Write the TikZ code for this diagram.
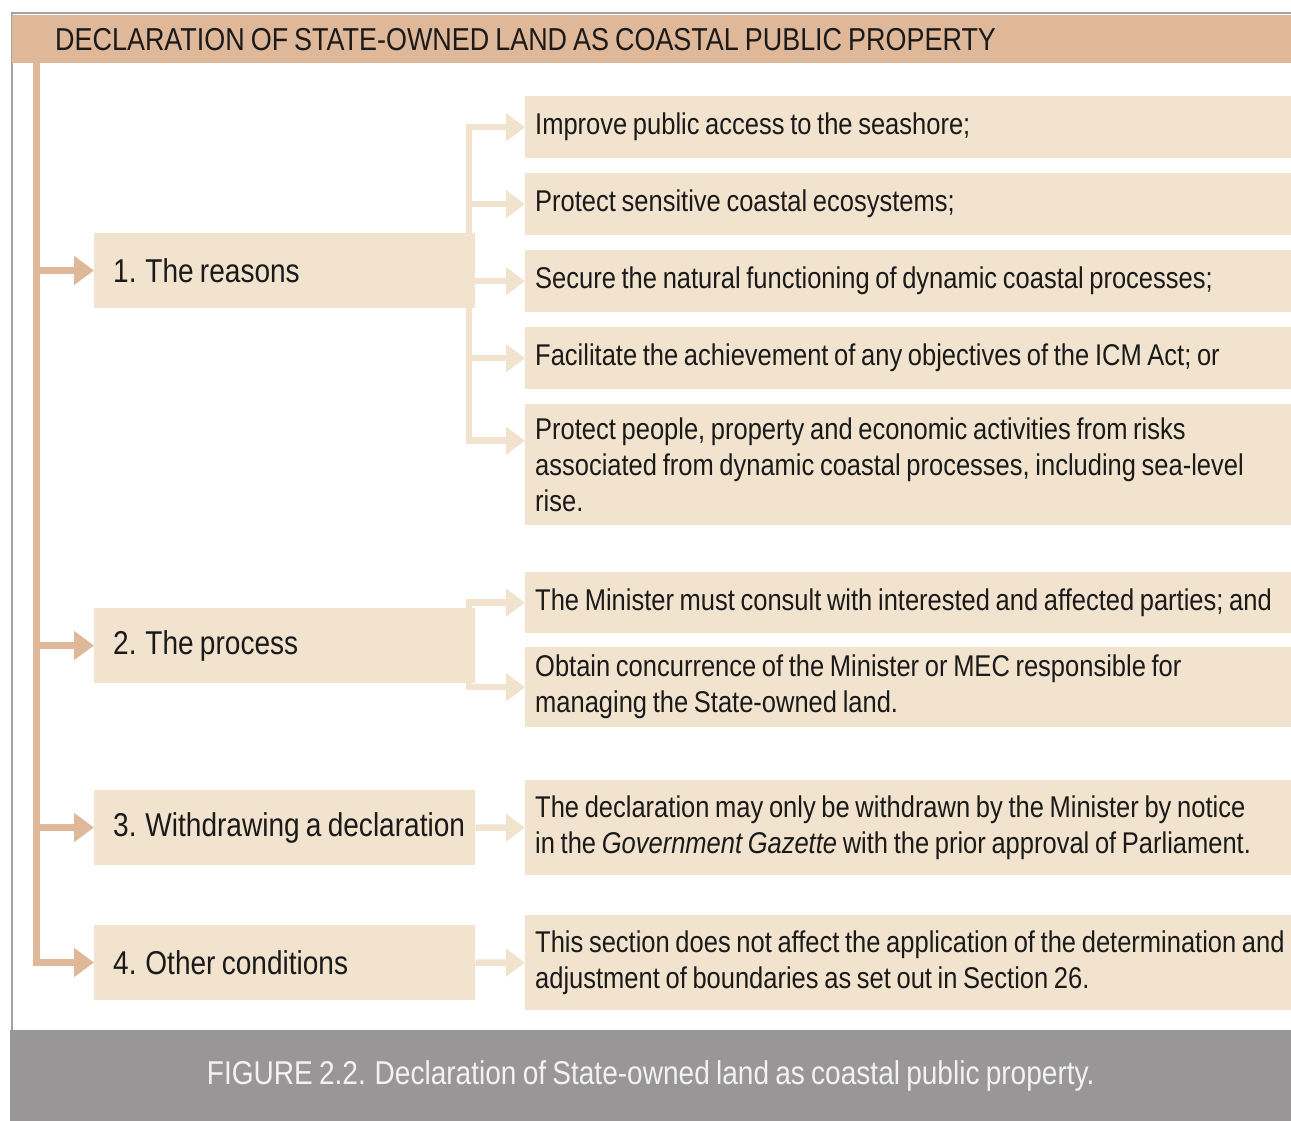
\documentclass[tikz,border=0pt]{standalone}
\usepackage{fontspec}
\setmainfont[FakeStretch=0.85,WordSpace=0.8]{Liberation Sans}
\usetikzlibrary{arrows.meta}
\definecolor{hdr}{RGB}{223,183,153}
\definecolor{pale}{RGB}{241,227,205}
\definecolor{capgray}{RGB}{152,150,151}
\definecolor{framegray}{RGB}{163,163,163}
\definecolor{ink}{RGB}{26,26,26}
\definecolor{capink}{RGB}{242,242,242}
\newcommand{\toptext}[1]{\makebox[343pt][l]{#1}}
\tikzset{
  topic/.style={fill=pale,anchor=west,inner xsep=19pt,inner ysep=0pt,minimum height=75pt,text=ink,font=\fontsize{33}{40}\selectfont},
  item/.style={fill=pale,anchor=north west,inner xsep=10pt,inner ysep=0pt,text width=790pt,align=left,text=ink,font=\fontsize{30}{36}\selectfont,
    execute at begin node={\spaceskip=0pt\xspaceskip=0pt}},
  mainarrow/.style={draw=hdr,line width=7pt,-{Triangle[length=20pt,width=28pt]}},
  subarrow/.style={draw=pale,line width=6.5pt,-{Triangle[length=19pt,width=27pt]}}
}
\begin{document}
\begin{tikzpicture}[x=1pt,y=-1pt]
\useasboundingbox (0,0) rectangle (1291,1121);
\draw[framegray,line width=2pt] (11.5,1030) -- (11.5,13.5) -- (1291,13.5);
\node[anchor=north west,fill=hdr,text width=1193pt,inner xsep=43pt,inner ysep=0pt,minimum height=48pt,align=left,text=ink,font=\fontsize{31.7}{36}\selectfont,execute at begin node={\spaceskip=0pt\xspaceskip=0pt}] (title) at (12,15) {DECLARATION OF STATE-OWNED LAND AS COASTAL PUBLIC PROPERTY};
\node[anchor=north west,fill=capgray,minimum width=1281pt,minimum height=91pt,inner sep=0pt,text=capink,font=\fontsize{33}{40}\selectfont] (caption) at (10,1030) {FIGURE 2.2. Declaration of State-owned land as coastal public property.};

\node[topic] (reasons) at (94,270.5) {\toptext{1. The reasons}};
\node[topic] (process) at (94,645.5) {\toptext{2. The process}};
\node[topic] (withdrawal) at (94,827.5) {\toptext{3. Withdrawing a declaration}};
\node[topic] (other) at (94,962.5) {\toptext{4. Other conditions}};

\node[item,minimum height=62pt] (access) at (525,96) {Improve public access to the seashore;};
\node[item,minimum height=62pt] (eco) at (525,173) {Protect sensitive coastal ecosystems;};
\node[item,minimum height=62pt] (dynamic) at (525,250) {Secure the natural functioning of dynamic coastal processes;};
\node[item,minimum height=62pt] (icm) at (525,327) {Facilitate the achievement of any objectives of the ICM Act; or};
\node[item,minimum height=121pt] (risk) at (525,404) {Protect people, property and economic activities from risks\\associated from dynamic coastal processes, including sea-level\\rise.};
\node[item,minimum height=61pt] (consult) at (525,572) {The Minister must consult with interested and affected parties; and};
\node[item,minimum height=80pt] (concur) at (525,647) {Obtain concurrence of the Minister or MEC responsible for\\managing the State-owned land.};
\node[item,minimum height=95pt] (notice) at (525,780) {The declaration may only be withdrawn by the Minister by notice\\in the \textit{Government Gazette} with the prior approval of Parliament.};
\node[item,minimum height=95pt] (section) at (525,915) {This section does not affect the application of the determination and\\adjustment of boundaries as set out in Section 26.};

\coordinate (spine) at (36.5,63);
\coordinate (rfork) at (469,270.5);
\coordinate (pfork) at (469,645.5);
\foreach \n in {reasons,process,withdrawal,other}
  \draw[mainarrow] (spine) |- (\n.west);
\foreach \n in {access,eco,dynamic,icm}
  \draw[subarrow] (rfork) |- (\n.west);
\draw[subarrow] (rfork) |- ([yshift=24pt]risk.west);
\foreach \n in {consult,concur}
  \draw[subarrow] (pfork) |- (\n.west);
\draw[subarrow] (withdrawal.east) -- (notice.west);
\draw[subarrow] (other.east) -- (section.west);
\end{tikzpicture}
\end{document}
